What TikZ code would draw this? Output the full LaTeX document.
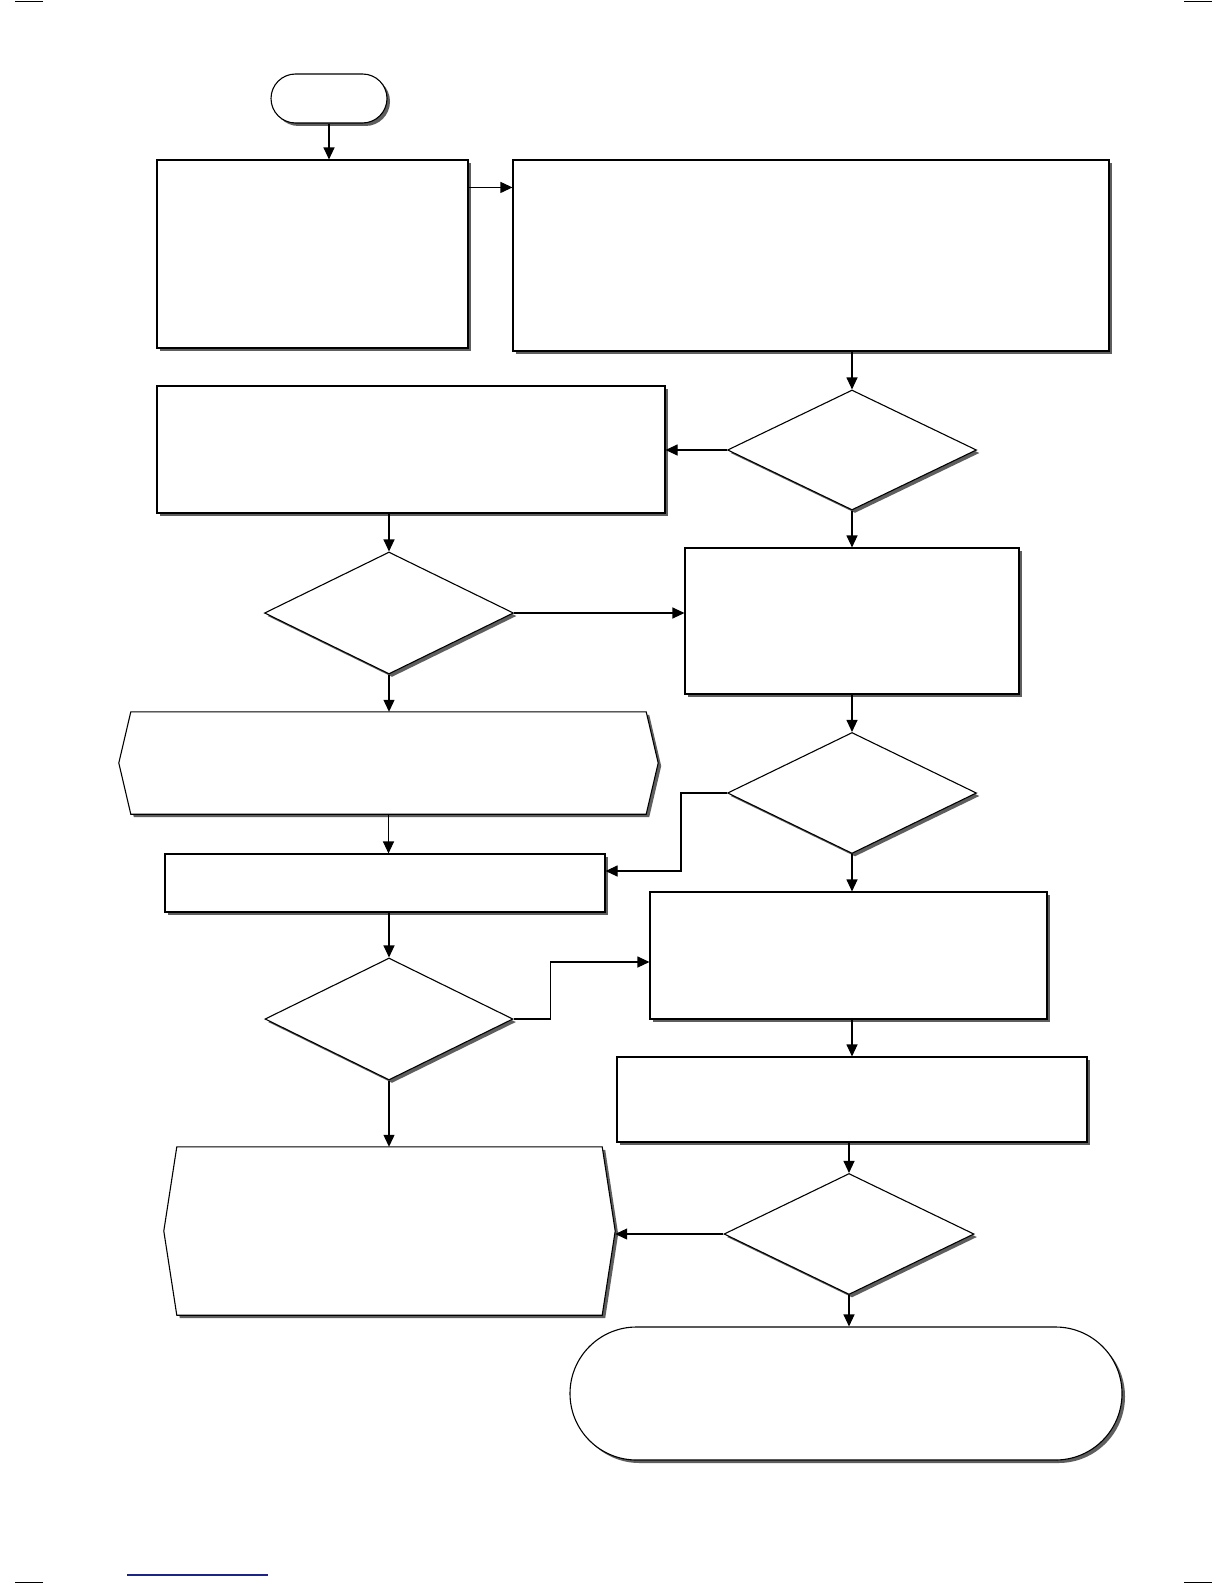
\documentclass[tikz,border=0pt]{standalone}
\usepackage{tikz}
\usetikzlibrary{arrows.meta,shapes.geometric,shadows,positioning}
\definecolor{shadowgray}{HTML}{5E5E5E}
\definecolor{linkblue}{HTML}{1C2487}
\tikzset{
  boxshadow/.style={drop shadow={shadow xshift=3pt, shadow yshift=-3pt, fill=shadowgray, opacity=1}},
  procbox/.style={draw=black, fill=white, line width=1.1pt, inner sep=0pt, boxshadow},
  decisionnode/.style={diamond, draw=black, fill=white, line width=1.1pt, inner sep=0pt, boxshadow},
  termnode/.style={draw=black, fill=white, line width=1.1pt, inner sep=0pt, boxshadow},
  dispnode/.style={inner sep=0pt},
  dispframe/.style={draw=black, fill=white, line width=1.1pt, boxshadow},
  flowarrow/.style={black, line width=1.1pt, -{Triangle[length=12pt, width=11pt]}},
  cropmark/.style={black, line width=1.2pt}
}
\begin{document}
\begin{tikzpicture}[x=1pt, y=-1pt]
  \useasboundingbox[fill=white] (0,0) rectangle (1224,1584);
  \draw[cropmark] (15,1.5)--(43,1.5);
  \draw[cropmark] (1184,1.5)--(1212,1.5);
  \draw[cropmark] (15,1582.5)--(43,1582.5);
  \draw[cropmark] (1184,1582.5)--(1212,1582.5);
  \draw[linkblue, line width=1.1pt] (127,1575)--(268,1575);

  \node[termnode, minimum width=116, minimum height=49, rounded corners=24.5] (start) at (329,98.5) {};
  \node[procbox, minimum width=311, minimum height=188] (init) at (312.5,254) {};
  \node[procbox, minimum width=596, minimum height=191] (setup) at (811,255.5) {};
  \node[decisionnode, minimum width=249, minimum height=120] (chkone) at (852,450) {};
  \node[procbox, minimum width=508, minimum height=127] (retry) at (411,449.5) {};
  \node[decisionnode, minimum width=249, minimum height=122] (chktwo) at (389,613) {};
  \node[procbox, minimum width=334, minimum height=146] (measure) at (852,621) {};
  \node[dispnode, minimum width=539, minimum height=102] (warn) at (388.5,763) {};
  \draw[dispframe] ([xshift=12]warn.north west) -- ([xshift=-12]warn.north east) -- (warn.east)
    -- ([xshift=-12]warn.south east) -- ([xshift=12]warn.south west) -- (warn.west) -- cycle;
  \node[decisionnode, minimum width=249, minimum height=121] (chkthree) at (852,793) {};
  \node[procbox, minimum width=440, minimum height=58] (adjust) at (385,883) {};
  \node[procbox, minimum width=397, minimum height=127] (store) at (848.5,955.5) {};
  \node[decisionnode, minimum width=248, minimum height=122] (chkfour) at (389,1019) {};
  \node[procbox, minimum width=470, minimum height=85] (verify) at (852,1099.5) {};
  \node[dispnode, minimum width=451, minimum height=168] (fail) at (389.5,1231) {};
  \draw[dispframe] ([xshift=13]fail.north west) -- ([xshift=-13]fail.north east) -- (fail.east)
    -- ([xshift=-13]fail.south east) -- ([xshift=13]fail.south west) -- (fail.west) -- cycle;
  \node[decisionnode, minimum width=250, minimum height=121] (chkfive) at (849,1234) {};
  \node[termnode, minimum width=552, minimum height=133, rounded corners=66.5] (finish) at (846,1393.5) {};

  \draw[flowarrow] (start.south) -- (start.south |- init.north);
  \draw[flowarrow] ([yshift=-28]init.north east) -- ([yshift=-28]init.north east -| setup.west);
  \draw[flowarrow] (chkone.north |- setup.south) -- (chkone.north);
  \draw[flowarrow] (chkone.west) -- (chkone.west -| retry.east);
  \draw[flowarrow] (chkone.south) -- (measure.north);
  \draw[flowarrow] (chktwo.north |- retry.south) -- (chktwo.north);
  \draw[flowarrow] (chktwo.east) -- (chktwo.east -| measure.west);
  \draw[flowarrow] (chktwo.south) -- (chktwo.south |- warn.north);
  \draw[flowarrow] (measure.south) -- (chkthree.north);
  \draw[flowarrow] (chkthree.west) -- ++(-46,0) |- ([yshift=12]adjust.east);
  \draw[flowarrow] (warn.south) -- (warn.south |- adjust.north);
  \draw[flowarrow] (chkthree.south) -- (chkthree.south |- store.north);
  \draw[flowarrow] (chkfour.north |- adjust.south) -- (chkfour.north);
  \draw[flowarrow] (chkfour.east) -- ++(37,0) |- ([yshift=-6.5]store.west);
  \draw[flowarrow] (chkfour.south) -- (chkfour.south |- fail.north);
  \draw[flowarrow] (verify.north |- store.south) -- (verify.north);
  \draw[flowarrow] (chkfive.north |- verify.south) -- (chkfive.north);
  \draw[flowarrow] (chkfive.west) -- (chkfive.west -| fail.east);
  \draw[flowarrow] (chkfive.south) -- (chkfive.south |- finish.north);
\end{tikzpicture}
\end{document}
